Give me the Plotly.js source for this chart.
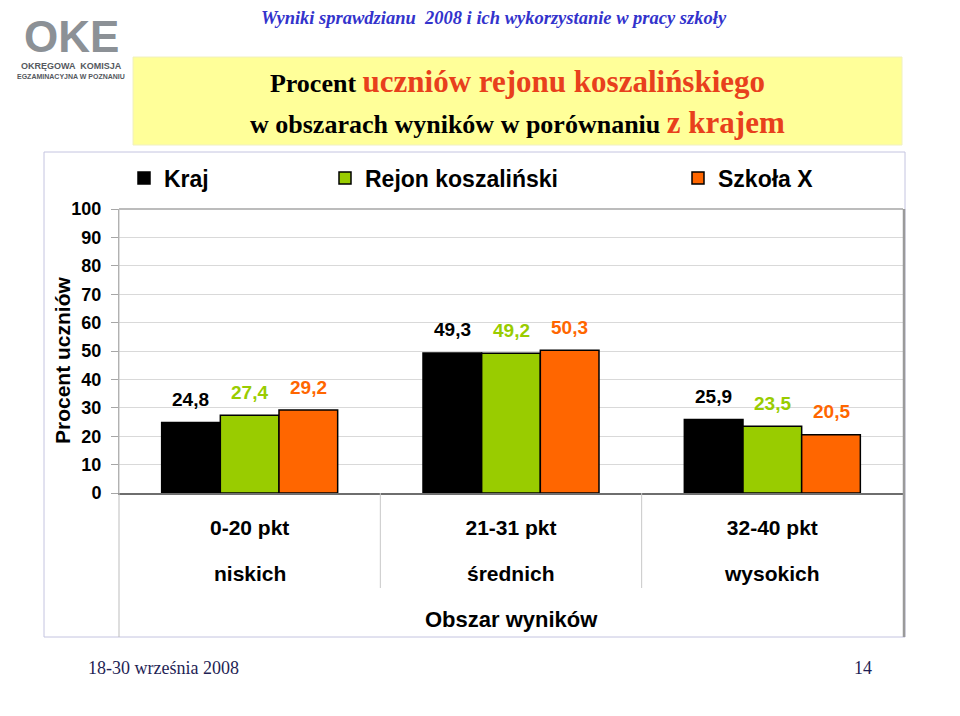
<!DOCTYPE html>
<html>
<head>
<meta charset="utf-8">
<script src="https://cdn.plot.ly/plotly-3.0.1.min.js"></script>
<style>
  html, body { margin: 0; padding: 0; background: #ffffff; }
  #chart { width: 960px; height: 716px; }
</style>
</head>
<body>
<div id="chart"></div>
<script>
// ---- data ----
const categories = ['0-20 pkt', '21-31 pkt', '32-40 pkt'];
const levels = ['niskich', 'średnich', 'wysokich'];
const seriesNames = ['Kraj', 'Rejon koszaliński', 'Szkoła X'];
const kraj = [24.8, 49.3, 25.9];
const rejon = [27.4, 49.2, 23.5];
const szkola = [29.2, 50.3, 20.5];
const yTickVals = [0, 10, 20, 30, 40, 50, 60, 70, 80, 90, 100];

// ---- styling ----
const colors = ['#000000', '#99CC00', '#FF6600'];
const W = 960, H = 716;
const L = 119, R = 903, T = 209, B = 493;
const px = x => (x - L) / (R - L);
const py = y => (B - y) / (B - T);
const sans = 'Liberation Sans, Arial, sans-serif';
const serif = 'Liberation Serif, Times New Roman, serif';

const seriesValues = [kraj, rejon, szkola];
const legendIds = ['legend', 'legend2', 'legend3'];
const traces = seriesValues.map((vals, i) => ({
  type: 'bar',
  name: seriesNames[i],
  x: categories,
  y: vals,
  marker: { color: colors[i], line: { color: '#000000', width: 1.5 } },
  legend: legendIds[i],
  hoverinfo: 'x+y+name'
}));

const fmt = v => v.toFixed(1).replace('.', ',');
const barShift = 58.7;
const annotations = [];
seriesValues.forEach((vals, i) => {
  vals.forEach((v, j) => {
    annotations.push({
      x: categories[j], y: v, xref: 'x', yref: 'y',
      text: fmt(v), showarrow: false,
      xshift: (i - 1) * barShift, yshift: 23,
      yanchor: 'middle',
      font: { family: sans, size: 19, color: colors[i], weight: 'bold' }
    });
  });
});
levels.forEach((lv, j) => {
  annotations.push({
    x: categories[j], xref: 'x', yref: 'paper', y: py(573),
    text: lv, showarrow: false, yanchor: 'middle',
    font: { family: sans, size: 21, color: '#000000', weight: 'bold' }
  });
});
// axis titles
annotations.push({
  xref: 'paper', yref: 'paper', x: 0.5, y: py(619), text: 'Obszar wyników',
  showarrow: false, yanchor: 'middle',
  font: { family: sans, size: 22, color: '#000000', weight: 'bold' }
});
annotations.push({
  xref: 'paper', yref: 'paper', x: px(62), y: py(360), text: 'Procent uczniów',
  textangle: -90, showarrow: false, xanchor: 'center', yanchor: 'middle',
  font: { family: sans, size: 21, color: '#000000', weight: 'bold' }
});
// slide decorations
annotations.push({
  xref: 'paper', yref: 'paper', x: px(494), y: py(18),
  text: 'Wyniki sprawdzianu  2008 i ich wykorzystanie w pracy szkoły',
  showarrow: false, xanchor: 'center', yanchor: 'middle',
  font: { family: serif, size: 18.5, color: '#3333CC', style: 'italic', weight: 'bold' }
});
annotations.push({
  xref: 'paper', yref: 'paper', x: px(517.5), y: py(122),
  text: 'w obszarach wyników w porównaniu <span style="color:#E8401C;font-size:31px">z krajem</span>',
  showarrow: false, xanchor: 'center', yanchor: 'middle',
  font: { family: serif, size: 26, color: '#000000', weight: 'bold' }
});
annotations.push({
  xref: 'paper', yref: 'paper', x: px(86), y: py(668), text: '18-30 września 2008',
  showarrow: false, xanchor: 'left', yanchor: 'middle',
  font: { family: serif, size: 18, color: '#1F1F55' }
});
annotations.push({
  xref: 'paper', yref: 'paper', x: px(874), y: py(668), text: '14',
  showarrow: false, xanchor: 'right', yanchor: 'middle',
  font: { family: serif, size: 18, color: '#1F1F55' }
});
// logo
annotations.push({
  xref: 'paper', yref: 'paper', x: px(71), y: py(36), text: 'OKE',
  showarrow: false, xanchor: 'center', yanchor: 'middle',
  font: { family: sans, size: 44, color: '#8C9196', weight: 'bold' }
});
annotations.push({
  xref: 'paper', yref: 'paper', x: px(71), y: py(66), text: 'OKRĘGOWA  KOMISJA',
  showarrow: false, xanchor: 'center', yanchor: 'middle',
  font: { family: sans, size: 9, color: '#55595E', weight: 'bold' }
});
annotations.push({
  xref: 'paper', yref: 'paper', x: px(71), y: py(76.5), text: 'EGZAMINACYJNA W POZNANIU',
  showarrow: false, xanchor: 'center', yanchor: 'middle',
  font: { family: sans, size: 7, color: '#55595E', weight: 'bold' }
});

const shapes = [
  // chart area
  { type: 'rect', xref: 'paper', yref: 'paper', x0: px(44), x1: px(905), y0: py(637), y1: py(152),
    fillcolor: '#FFFFFF', line: { color: '#C4C4E0', width: 1 }, layer: 'below' },
  // title box
  { type: 'rect', xref: 'paper', yref: 'paper', x0: px(133), x1: px(902), y0: py(145), y1: py(57),
    fillcolor: '#FFFF99', line: { color: '#F0F0C0', width: 1 }, layer: 'below' },
  // plot frame top
  { type: 'line', xref: 'paper', yref: 'paper', x0: 0, x1: 1, y0: 1, y1: 1,
    line: { color: '#A6A6A6', width: 1.5 } },
  // right edge
  { type: 'line', xref: 'paper', yref: 'paper', x0: px(904), x1: px(904), y0: 1, y1: py(637),
    line: { color: '#9A9A9A', width: 2.5 } },
  // left axis extension
  { type: 'line', xref: 'paper', yref: 'paper', x0: 0, x1: 0, y0: 1, y1: py(637),
    line: { color: '#BDBDBD', width: 1 } },
  // dividers between groups
  { type: 'line', xref: 'x', yref: 'paper', x0: 0.5, x1: 0.5, y0: 0, y1: py(588),
    line: { color: '#C8C8C8', width: 1 } },
  { type: 'line', xref: 'x', yref: 'paper', x0: 1.5, x1: 1.5, y0: 0, y1: py(588),
    line: { color: '#C8C8C8', width: 1 } }
];

const legendBase = {
  orientation: 'h', yref: 'paper', y: py(178), yanchor: 'middle', xanchor: 'left',
  bgcolor: 'rgba(0,0,0,0)', borderwidth: 0,
  font: { family: sans, size: 23, color: '#000000', weight: 'bold' }
};

const layout = {
  width: W, height: H,
  margin: { l: L, r: W - R, t: T, b: H - B, pad: 0 },
  paper_bgcolor: 'rgba(0,0,0,0)',
  plot_bgcolor: '#FFFFFF',
  barmode: 'group',
  bargap: 0.3265,
  bargroupgap: 0,
  showlegend: true,
  title: {
    text: 'Procent <span style="color:#E8401C;font-size:31px">uczniów rejonu koszalińskiego</span>',
    xref: 'container', yref: 'container', x: 517.5 / W, y: 1 - 83 / H,
    xanchor: 'center', yanchor: 'middle',
    font: { family: serif, size: 26, color: '#000000', weight: 'bold' }
  },
  legend: Object.assign({}, legendBase, { x: px(124) }),
  legend2: Object.assign({}, legendBase, { x: px(325) }),
  legend3: Object.assign({}, legendBase, { x: px(678) }),
  xaxis: {
    type: 'category',
    showline: true, linecolor: '#6E6E6E', linewidth: 2,
    showgrid: false, ticks: '', ticklabelstandoff: 15,
    tickfont: { family: sans, size: 21, color: '#000000', weight: 'bold' },
    fixedrange: true
  },
  yaxis: {
    range: [0, 100], tickvals: yTickVals, ticktext: yTickVals.map(String),
    showline: true, linecolor: '#A6A6A6', linewidth: 1,
    showgrid: true, gridcolor: '#D9D9D9', gridwidth: 1,
    ticks: 'outside', ticklen: 7, tickcolor: '#A6A6A6', ticklabelstandoff: 6,
    tickfont: { family: sans, size: 18, color: '#000000', weight: 'bold' },
    zeroline: false, fixedrange: true
  },
  annotations: annotations,
  shapes: shapes
};

Plotly.newPlot('chart', traces, layout, { displayModeBar: false, staticPlot: true });
</script>
</body>
</html>
